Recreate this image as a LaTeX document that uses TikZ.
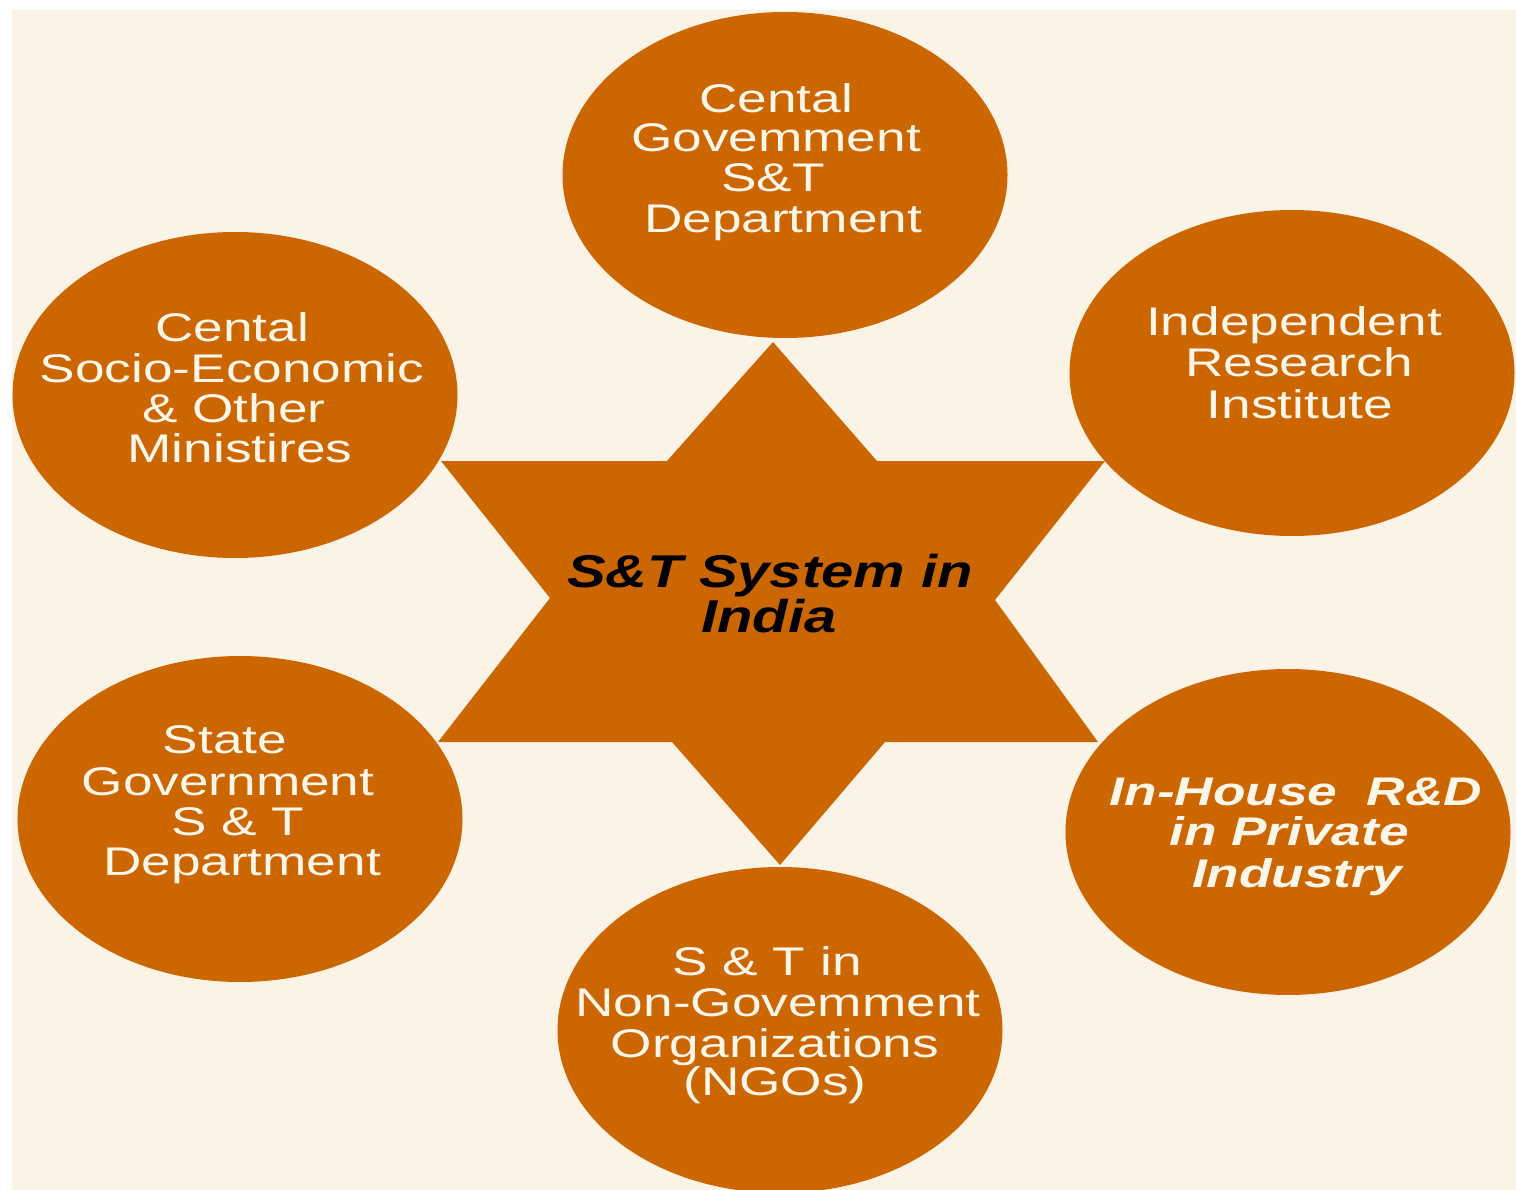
\documentclass[tikz,border=0pt]{standalone}
\usepackage{fontspec}
\usetikzlibrary{shapes.geometric}
\newfontfamily\ellfont[FakeStretch=1.33]{Liberation Sans}
\newfontfamily\ctrfont[FakeStretch=1.26]{Liberation Sans}
\definecolor{st}{HTML}{CC6600}
\definecolor{bgc}{HTML}{FCF3E7}
\definecolor{txt}{HTML}{FFF6EA}
\begin{document}
\begin{tikzpicture}[x=1pt,y=-1pt,
  blob/.style={ellipse, fill=st, minimum width=445pt, minimum height=326pt, inner sep=0pt},
  lbl/.style={anchor=base, inner sep=0pt, text=txt, font=\ellfont\fontsize{40}{40}\selectfont},
  ilbl/.style={lbl, font=\ellfont\bfseries\itshape\fontsize{40}{40}\selectfont},
  ctr/.style={anchor=base, inner sep=0pt, text=black, font=\ctrfont\bfseries\itshape\fontsize{46}{46}\selectfont}]
\useasboundingbox (0,0) rectangle (1516,1190);
\fill[white] (0,0) rectangle (1516,1190);
\fill[bgc] (12,10) rectangle (1516,1190);
% star
\fill[st] (773,342) -- (877,461) -- (1105,461) -- (995,600) -- (1098,742) -- (885,742)
  -- (780,865) -- (672,742) -- (438,742) -- (550,598) -- (441,461) -- (667,461) -- cycle;
% ellipses
\node[blob] (top) at (785,175) {};
\node[blob] (tl) at (235,395) {};
\node[blob] (tr) at (1292,373) {};
\node[blob] (bl) at (240,819) {};
\node[blob] (br) at (1288,832) {};
\node[blob] (bot) at (780,1030) {};
% top
\node[lbl] (top1) at (776,113) {Cental};
\node[lbl] (top2) at (776,152) {Govemment};
\node[lbl] (top3) at (773,192) {S\&T};
\node[lbl] (top4) at (783,233) {Department};
% top left
\node[lbl] (tl1) at (232,342) {Cental};
\node[lbl] (tl2) at (232,382) {Socio-Economic};
\node[lbl] (tl3) at (234,422) {\& Other};
\node[lbl] (tl4) at (240,462) {Ministires};
% top right
\node[lbl] (tr1) at (1294,336) {Independent};
\node[lbl] (tr2) at (1299,377) {Research};
\node[lbl] (tr3) at (1300,418) {Institute};
% bottom left
\node[lbl] (bl1) at (225,753) {State};
\node[lbl] (bl2) at (228,795) {Government};
\node[lbl] (bl3) at (238,835) {S \& T};
\node[lbl] (bl4) at (242,875) {Department};
% bottom
\node[lbl] (bot1) at (767,975) {S \& T in};
\node[lbl] (bot2) at (778,1016) {Non-Govemment};
\node[lbl] (bot3) at (775,1057) {Organizations};
\node[lbl] (bot4) at (775,1095) {(NGOs)};
% bottom right
\node[ilbl] (br1) at (1296,805) {In-House~~R\&D};
\node[ilbl] (br2) at (1289,845) {in Private};
\node[ilbl] (br3) at (1297,887) {Industry};
% centre
\node[ctr] (c1) at (770,587) {S\&T System in};
\node[ctr] (c2) at (769,632) {India};
\end{tikzpicture}
\end{document}
